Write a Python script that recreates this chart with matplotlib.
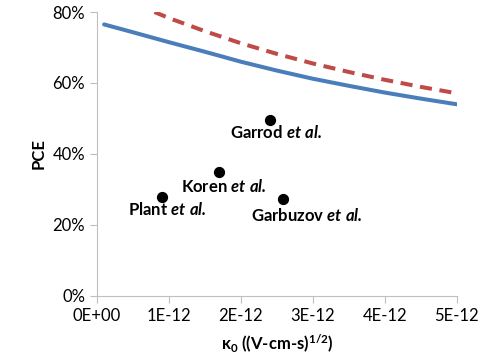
import numpy as np
import matplotlib.pyplot as plt
from matplotlib.ticker import FuncFormatter

plt.rcParams['font.family'] = ['Lato', 'DejaVu Sans']
plt.rcParams['mathtext.fontset'] = 'custom'
plt.rcParams['mathtext.rm'] = 'Lato'
plt.rcParams['mathtext.bf'] = 'Lato:bold'
plt.rcParams['mathtext.it'] = 'Lato:italic'
plt.rcParams['mathtext.bfit'] = 'Lato:bold:italic'

# model curves (kappa0 in units of 1E-12, PCE in %)
blue_x = [0.1, 0.5, 1.0, 1.5, 2.0, 2.5, 3.0, 3.5, 4.0, 4.5, 5.0]
blue_y = [76.5, 74.3, 71.5, 68.8, 66.0, 63.5, 61.2, 59.2, 57.3, 55.6, 54.0]
red_x = [0.8, 1.0, 1.5, 2.0, 2.5, 3.0, 3.5, 4.0, 4.5, 5.0]
red_y = [80.0, 78.3, 74.6, 71.2, 68.2, 65.5, 63.1, 60.9, 58.9, 57.1]

# experimental points
names = ['Garrod', 'Koren', 'Plant', 'Garbuzov']
pt_x = [2.40, 1.70, 0.90, 2.58]
pt_y = [49.6, 35.0, 28.0, 27.2]
lab_x = [2.49, 1.76, 0.98, 2.91]
lab_y = [46.1, 30.8, 24.4, 22.8]

fig = plt.figure(figsize=(4.87, 3.64), dpi=100)
ax = fig.add_axes([0.199, 0.187, 0.739, 0.780])

ax.plot(blue_x, blue_y, color='#4a7ebb', lw=2.9, solid_capstyle='round')
ax.plot(red_x, red_y, color='#be4b48', lw=2.9, dashes=(3.0, 1.9))
ax.scatter(pt_x, pt_y, s=50, color='black', zorder=3)

for n, x, y in zip(names, lab_x, lab_y):
    ax.text(x, y, r'$\bf{' + n + r'}$ $\bfit{et\ al.}$', ha='center', va='center',
            fontsize=12, math_fontfamily='custom')

ax.set_xlim(0, 5)
ax.set_ylim(0, 80)
ax.set_xticks(np.arange(0, 6))
ax.set_yticks(np.arange(0, 81, 20))
ax.xaxis.set_major_formatter(FuncFormatter(lambda v, p: '0E+00' if v == 0 else f'{int(v)}E-12'))
ax.yaxis.set_major_formatter(FuncFormatter(lambda v, p: f'{int(v)}%'))

for s in ['top', 'right']:
    ax.spines[s].set_visible(False)
for s in ['left', 'bottom']:
    ax.spines[s].set_color('#bfbfbf')
    ax.spines[s].set_linewidth(0.8)
ax.tick_params(axis='both', colors='#bfbfbf', labelcolor='black', labelsize=12,
               length=5, width=0.8, direction='out')

ax.set_ylabel('PCE', fontsize=12, fontweight='bold', labelpad=4)
ax.set_xlabel(r'$\mathbf{\kappa_0}$ ((V-cm-s)$^{\mathbf{1/2}}$)', fontsize=12,
              fontweight='bold', labelpad=6, math_fontfamily='custom')

fig.savefig('out.png', dpi=100)
